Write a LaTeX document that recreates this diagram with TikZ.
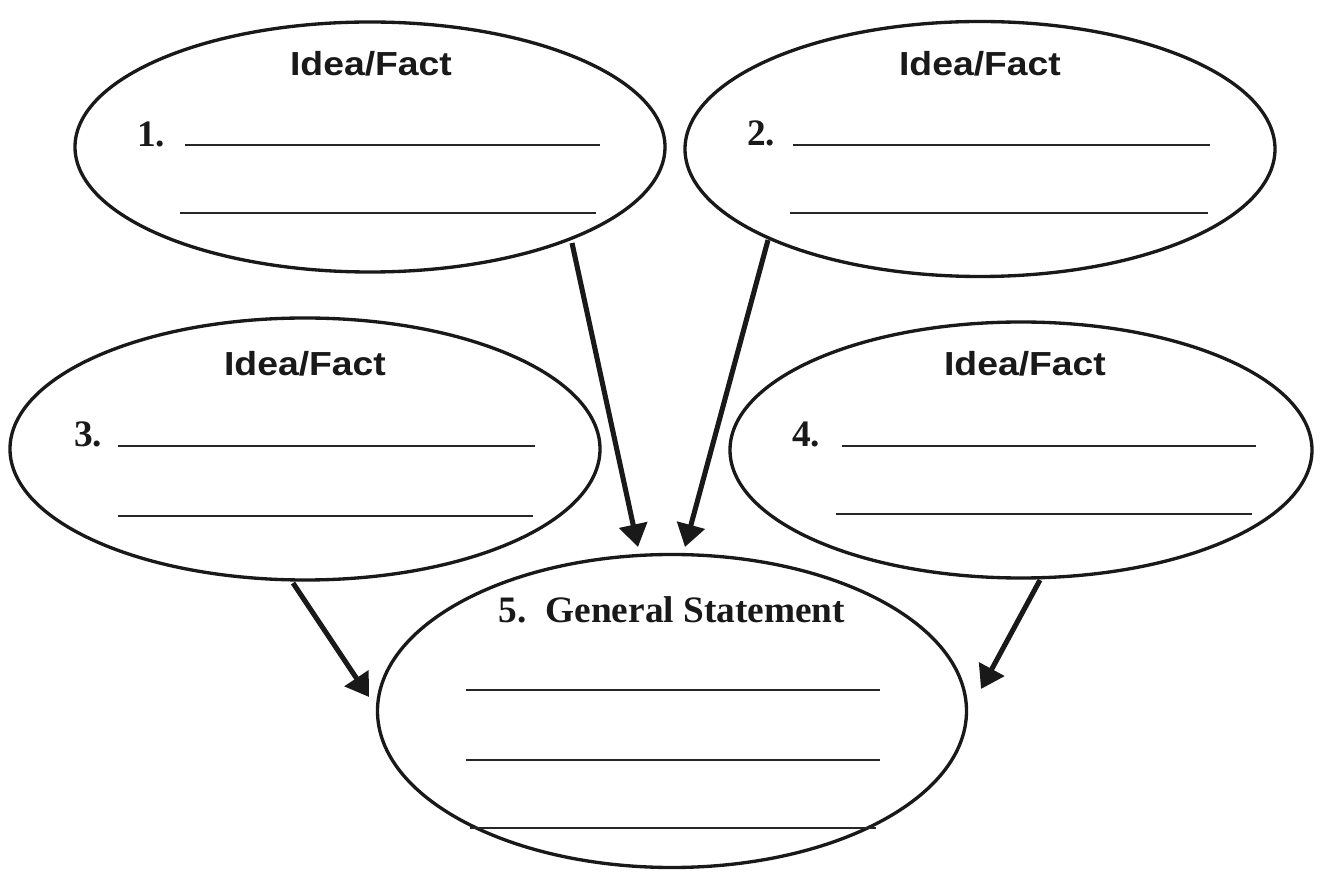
\documentclass[tikz,border=0pt]{standalone}
\usepackage{fontspec}
\setmainfont{Liberation Serif}
\newfontfamily\headfont[FakeStretch=1.12]{Liberation Sans}
\usetikzlibrary{shapes.geometric,arrows.meta}
\begin{document}
\begin{tikzpicture}[x=0.75pt,y=-0.75pt,
  oval/.style={draw=black!90,line width=2.5pt,ellipse,inner sep=0pt},
  head/.style={font=\headfont\bfseries\fontsize{25}{28}\selectfont,text=black!90},
  num/.style={font=\bfseries\fontsize{28}{30}\selectfont,text=black!90},
  blank/.style={draw=black!85,line width=1.1pt},
  link/.style={draw=black!90,line width=3.8pt,-{Triangle[length=17pt,width=21pt]}}]
\useasboundingbox (0,0) rectangle (1322,873);
% ovals
\node[oval,minimum width=590*0.75pt,minimum height=250*0.75pt] (e1) at (370,147) {};
\node[oval,minimum width=590*0.75pt,minimum height=255*0.75pt] (e2) at (980,149) {};
\node[oval,minimum width=590*0.75pt,minimum height=262*0.75pt] (e3) at (305,449) {};
\node[oval,minimum width=582*0.75pt,minimum height=256*0.75pt] (e4) at (1021,450) {};
\node[oval,minimum width=589*0.75pt,minimum height=313*0.75pt] (e5) at (672,711) {};
% headings
\node[head] (h1) at (371,64) {Idea/Fact};
\node[head] (h2) at (980,64) {Idea/Fact};
\node[head] (h3) at (305,364) {Idea/Fact};
\node[head] (h4) at (1025,364) {Idea/Fact};
\node[num] (h5) at (672,610) {5.\ \ General Statement};
% numbers
\node[num] (n1) at (151,134) {1.};
\node[num] (n2) at (761,133) {2.};
\node[num] (n3) at (88,434) {3.};
\node[num] (n4) at (806,434) {4.};
% blank lines
\coordinate (a1) at (185,145); \coordinate (b1) at (600,145);
\coordinate (a2) at (180,213); \coordinate (b2) at (596,213);
\draw[blank] (a1) -- (b1); \draw[blank] (a2) -- (b2);
\coordinate (a3) at (793,145); \coordinate (b3) at (1210,145);
\coordinate (a4) at (790,213); \coordinate (b4) at (1208,213);
\draw[blank] (a3) -- (b3); \draw[blank] (a4) -- (b4);
\coordinate (a5) at (118,446); \coordinate (b5) at (535,446);
\coordinate (a6) at (118,516); \coordinate (b6) at (533,516);
\draw[blank] (a5) -- (b5); \draw[blank] (a6) -- (b6);
\coordinate (a7) at (842,446); \coordinate (b7) at (1256,446);
\coordinate (a8) at (836,514); \coordinate (b8) at (1252,514);
\draw[blank] (a7) -- (b7); \draw[blank] (a8) -- (b8);
\coordinate (a9) at (466,690); \coordinate (b9) at (880,690);
\coordinate (a10) at (466,760); \coordinate (b10) at (880,760);
\coordinate (a11) at (470,828); \coordinate (b11) at (876,828);
\draw[blank] (a9) -- (b9); \draw[blank] (a10) -- (b10); \draw[blank] (a11) -- (b11);
% arrows
\coordinate (s1) at (572,243); \coordinate (t1) at (638,547);
\coordinate (s2) at (768,240); \coordinate (t2) at (685,547);
\coordinate (s3) at (293,583); \coordinate (t3) at (369,697);
\coordinate (s4) at (1040,580); \coordinate (t4) at (981,689);
\draw[link] (s1) -- (t1);
\draw[link] (s2) -- (t2);
\draw[link] (s3) -- (t3);
\draw[link] (s4) -- (t4);
\end{tikzpicture}
\end{document}
